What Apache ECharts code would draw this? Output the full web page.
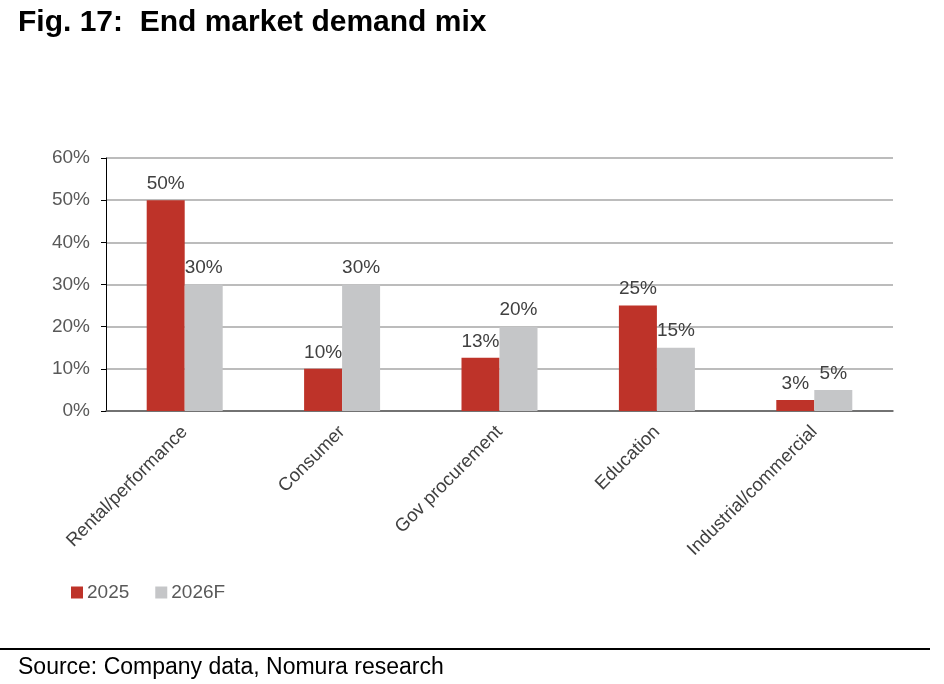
<!DOCTYPE html>
<html><head><meta charset="utf-8">
<script src="https://cdn.jsdelivr.net/npm/echarts@6/dist/echarts.min.js"></script>
<style>html,body{margin:0;padding:0;background:#fff;}#c{width:944px;height:684px;}</style>
</head><body><div id="c"></div>
<script>
const categories = ["Rental/performance", "Consumer", "Gov procurement", "Education", "Industrial/commercial"];
const values2025 = [50, 10, 12.6, 25, 2.6];
const values2026F = [30, 30, 20, 15, 5];
const yTicks = [0, 10, 20, 30, 40, 50, 60];

const FONT = '"Liberation Sans", Arial, Helvetica, sans-serif';
const chart = echarts.init(document.getElementById('c'));
const labelStyle = {show: true, position: 'top', distance: 7, color: '#404040', fontSize: 19, fontFamily: FONT, formatter: p => Math.round(p.value) + '%'};
chart.setOption({
  animation: false,
  graphic: [
    {type: 'text', left: 18, top: 8, style: {text: 'Fig. 17:  End market demand mix', font: 'bold 30px ' + FONT, fill: '#000'}},
    {type: 'line', shape: {x1: 0, y1: 649, x2: 930, y2: 649}, style: {stroke: '#000', lineWidth: 2}},
    {type: 'text', left: 18, top: 656, style: {text: 'Source: Company data, Nomura research', font: '23px ' + FONT, fill: '#000'}}
  ],
  legend: {
    left: 66, top: 578, itemWidth: 12, itemHeight: 12, itemGap: 26,
    icon: 'rect',
    textStyle: {color: '#595959', fontSize: 19, fontFamily: FONT, padding: [0, 0, 0, -1]},
    data: ['2025', '2026F']
  },
  grid: {left: 106, right: 51, top: 158, bottom: 273, containLabel: false},
  xAxis: {
    type: 'category', data: categories,
    axisLine: {lineStyle: {color: '#595959', width: 1.5}},
    axisTick: {show: false},
    axisLabel: {rotate: 45, color: '#404040', fontSize: 18.5, fontFamily: FONT, margin: 18, interval: 0}
  },
  yAxis: {
    type: 'value', min: yTicks[0], max: yTicks[yTicks.length - 1], interval: 10,
    axisLine: {show: true, lineStyle: {color: '#000', width: 1}},
    axisTick: {show: true, length: 5, lineStyle: {color: '#000'}},
    splitLine: {lineStyle: {color: '#a6a6a6', width: 1.5}},
    axisLabel: {color: '#595959', fontSize: 19, fontFamily: FONT, margin: 16, formatter: v => v + '%'}
  },
  series: [
    {name: '2025', type: 'bar', data: values2025, barWidth: 38, barGap: '0%', itemStyle: {color: '#BE3329'}, label: labelStyle},
    {name: '2026F', type: 'bar', data: values2026F, barWidth: 38, itemStyle: {color: '#C5C6C8'}, label: labelStyle}
  ]
});
</script></body></html>
